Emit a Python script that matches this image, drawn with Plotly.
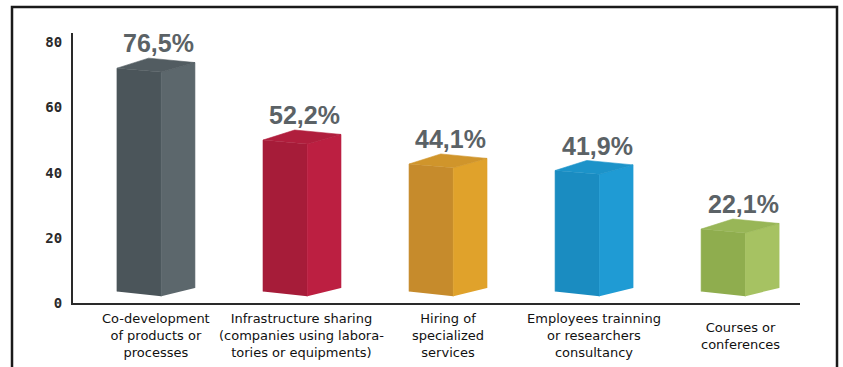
import plotly.graph_objects as go

# ---- data ----
categories = [
    "Co-development<br>of products or<br>processes",
    "Infrastructure sharing<br>(companies using labora-<br>tories or equipments)",
    "Hiring of<br>specialized<br>services",
    "Employees trainning<br>or researchers<br>consultancy",
    "Courses or<br>conferences",
]
values = [76.5, 52.2, 44.1, 41.9, 22.1]
value_labels = ["76,5%", "52,2%", "44,1%", "41,9%", "22,1%"]
y_ticks = [0, 20, 40, 60, 80]

front_colors = ["#4b555a", "#a61c39", "#c68b2c", "#1a8cc1", "#8fad4e"]
side_colors = ["#5c676c", "#bc1f41", "#e0a22b", "#1f9bd4", "#a6c262"]
top_colors = ["#525c61", "#b01e3d", "#d0952b", "#1c93c9", "#98b657"]

# ---- 3D bar geometry (category units / value units) ----
X_L, X_M, X_R, X_P = -0.267, 0.036, 0.267, -0.05
TOP_L, TOP_M, TOP_R = -3.4, -4.7, -1.5
BOT_L, BOT_M, BOT_R = -2.4, -4.0, -1.2

fig = go.Figure()
for i, v in enumerate(values):
    faces = [
        ([i + X_L, i + X_L, i + X_M, i + X_M],
         [BOT_L, v + TOP_L, v + TOP_M, BOT_M], front_colors[i]),
        ([i + X_M, i + X_M, i + X_R, i + X_R],
         [BOT_M, v + TOP_M, v + TOP_R, BOT_R], side_colors[i]),
        ([i + X_L, i + X_P, i + X_R, i + X_M],
         [v + TOP_L, v, v + TOP_R, v + TOP_M], top_colors[i]),
    ]
    for xs, ys, col in faces:
        fig.add_trace(go.Scatter(
            x=xs, y=ys, mode="lines", fill="toself", fillcolor=col,
            line=dict(color=col, width=0.6), yaxis="y2",
            hoverinfo="skip", showlegend=False,
        ))
    fig.add_annotation(
        x=i + 0.02, y=v + 5, xref="x", yref="y2", text=value_labels[i],
        showarrow=False, yanchor="middle",
        font=dict(family="Liberation Sans Narrow, Arial Narrow, sans-serif",
                  size=25, color="#5b6266", weight="bold"),
    )
    fig.add_annotation(
        x=i, y=-0.122, xref="x", yref="paper", text=categories[i],
        showarrow=False, yanchor="middle",
        font=dict(family="DejaVu Sans, sans-serif", size=13, color="#111111"),
    )

# invisible trace on main y axis to anchor it
fig.add_trace(go.Scatter(x=[0], y=[0], mode="markers", marker=dict(opacity=0),
                         hoverinfo="skip", showlegend=False))

fig.update_layout(
    width=843, height=367, autosize=False,
    margin=dict(l=73, r=43, t=33, b=64),
    paper_bgcolor="white", plot_bgcolor="white",
    xaxis=dict(range=[-0.568, 4.41], showgrid=False, zeroline=False,
               showticklabels=False, ticks="", showline=True,
               linecolor="#2a2a2a", linewidth=2),
    yaxis=dict(range=[0, 82.9], tickvals=y_ticks, showgrid=False,
               zeroline=False, ticks="", showline=True,
               linecolor="#2a2a2a", linewidth=2, ticklabelstandoff=6,
               tickfont=dict(family="DejaVu Sans Mono, monospace", size=14,
                             color="#2a2a2a", weight="bold")),
    yaxis2=dict(range=[-6.3, 85.0], overlaying="y", visible=False),
    shapes=[dict(type="rect", xref="paper", yref="paper",
                 x0=-0.0839, x1=1.0509, y0=-0.25, y1=1.0963,
                 line=dict(color="#1a1a1a", width=2.5), layer="above")],
)

fig.write_html(
    "out.html",
    config={"displayModeBar": False},
    post_script="document.body.style.margin='0';document.body.style.overflow='hidden';",
)
